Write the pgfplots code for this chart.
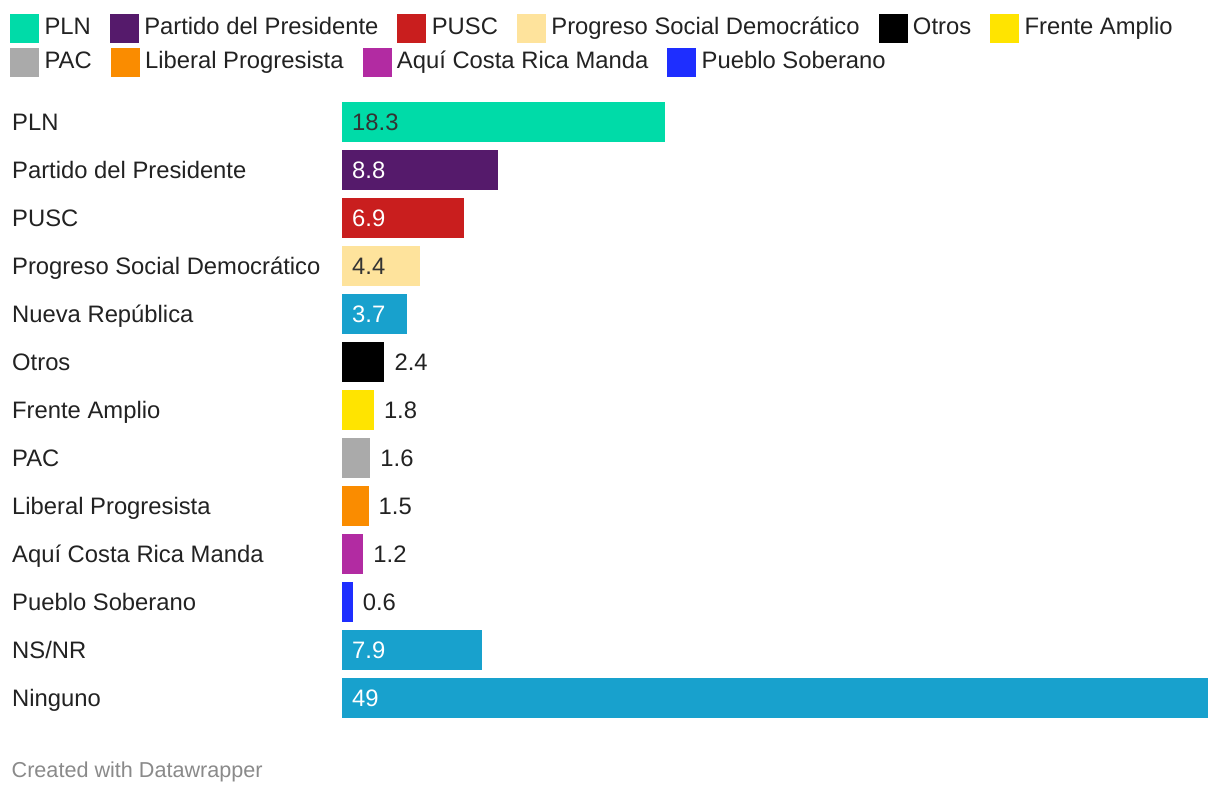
\documentclass[border=0pt]{standalone}
\usepackage{pgfplots}
\pgfplotsset{compat=1.18}
\usepackage{fontspec}
\setmainfont{Liberation Sans}
\definecolor{cPLN}{HTML}{00DBA8}
\definecolor{cPdP}{HTML}{551A6B}
\definecolor{cPUSC}{HTML}{C91E1E}
\definecolor{cPSD}{HTML}{FEE39C}
\definecolor{cNR}{HTML}{18A1CD}
\definecolor{cOtros}{HTML}{000000}
\definecolor{cFA}{HTML}{FFE400}
\definecolor{cPAC}{HTML}{AAAAAA}
\definecolor{cLP}{HTML}{FA8C00}
\definecolor{cACRM}{HTML}{B22BA2}
\definecolor{cPS}{HTML}{1E2EFF}
\definecolor{ctext}{HTML}{222222}
\definecolor{cval}{HTML}{333333}
\definecolor{cfoot}{HTML}{8A8A8A}
\pgfplotsset{
  sq/.style={legend image code/.code={\fill[#1] (0pt,-16pt) rectangle (28pt,12pt); \path (0pt,16pt);}},
  base/.style={
    at={(342pt,74pt)}, anchor=south west,
    width=866pt, height=624pt, scale only axis,
    xmin=0, xmax=49, ymin=-0.5, ymax=12.5, y dir=reverse,
    clip=false,
    legend style={draw=none, fill=none, inner sep=0pt, anchor=north west,
      nodes={inner sep=0pt, text height=22pt, text depth=5pt},
      /tikz/every odd column/.append style={column sep=6pt},
      /tikz/every even column/.append style={column sep=19pt}},
  },
  lbl/.style={draw=none, mark=none, nodes near coords, point meta=explicit symbolic,
    every node near coord/.style={anchor=west, inner sep=0pt, xshift=10pt,
      text height=22pt, text depth=5pt, text=#1}},
}
\begin{document}
\begin{tikzpicture}[font=\fontsize{23.8}{28}\selectfont, text=ctext]
\useasboundingbox (0,0) rectangle (1220pt,796pt);
\fill[white] (0,0) rectangle (1220pt,796pt);
\begin{axis}[base,
  axis line style={draw=none},
  major tick style={draw=none},
  xtick=\empty,
  ytick={0,...,12},
  yticklabels={PLN, Partido del Presidente, PUSC, Progreso Social Democrático, Nueva República, Otros, Frente Amplio, PAC, Liberal Progresista, Aquí Costa Rica Manda, Pueblo Soberano, NS/NR, Ninguno},
  yticklabel style={anchor=west, inner sep=0pt, xshift=-330pt, text height=22pt, text depth=5pt, text=ctext},
  legend columns=6,
  legend style={at={(axis description cs:-0.38337,1.14103)}},
]
\addplot[xbar, bar shift=0pt, bar width=40pt, fill=cPLN, draw=none, forget plot] coordinates {(18.3,0)};
\addplot[xbar, bar shift=0pt, bar width=40pt, fill=cPdP, draw=none, forget plot] coordinates {(8.8,1)};
\addplot[xbar, bar shift=0pt, bar width=40pt, fill=cPUSC, draw=none, forget plot] coordinates {(6.9,2)};
\addplot[xbar, bar shift=0pt, bar width=40pt, fill=cPSD, draw=none, forget plot] coordinates {(4.4,3)};
\addplot[xbar, bar shift=0pt, bar width=40pt, fill=cNR, draw=none, forget plot] coordinates {(3.7,4)};
\addplot[xbar, bar shift=0pt, bar width=40pt, fill=cOtros, draw=none, forget plot] coordinates {(2.4,5)};
\addplot[xbar, bar shift=0pt, bar width=40pt, fill=cFA, draw=none, forget plot] coordinates {(1.8,6)};
\addplot[xbar, bar shift=0pt, bar width=40pt, fill=cPAC, draw=none, forget plot] coordinates {(1.6,7)};
\addplot[xbar, bar shift=0pt, bar width=40pt, fill=cLP, draw=none, forget plot] coordinates {(1.5,8)};
\addplot[xbar, bar shift=0pt, bar width=40pt, fill=cACRM, draw=none, forget plot] coordinates {(1.2,9)};
\addplot[xbar, bar shift=0pt, bar width=40pt, fill=cPS, draw=none, forget plot] coordinates {(0.6,10)};
\addplot[xbar, bar shift=0pt, bar width=40pt, fill=cNR, draw=none, forget plot] coordinates {(7.9,11)};
\addplot[xbar, bar shift=0pt, bar width=40pt, fill=cNR, draw=none, forget plot] coordinates {(49,12)};
% value labels
\addplot[lbl=cval, forget plot] coordinates {(0,0)[18.3] (0,3)[4.4]};
\addplot[lbl=white, forget plot] coordinates {(0,1)[8.8] (0,2)[6.9] (0,4)[3.7] (0,11)[7.9] (0,12)[49]};
\addplot[lbl=ctext, forget plot] coordinates {(2.4,5)[2.4] (1.8,6)[1.8] (1.6,7)[1.6] (1.5,8)[1.5] (1.2,9)[1.2] (0.6,10)[0.6]};
\addlegendimage{sq=cPLN}\addlegendentry{PLN}
\addlegendimage{sq=cPdP}\addlegendentry{Partido del Presidente}
\addlegendimage{sq=cPUSC}\addlegendentry{PUSC}
\addlegendimage{sq=cPSD}\addlegendentry{Progreso Social Democrático}
\addlegendimage{sq=cOtros}\addlegendentry{Otros}
\addlegendimage{sq=cFA}\addlegendentry{Frente Amplio}
\node[anchor=base west, inner sep=0pt, text=cfoot, font=\fontsize{21.6}{26}\selectfont] at (axis description cs:-0.38164,-0.08814) {Created with Datawrapper};
\end{axis}
\begin{axis}[base, hide axis,
  legend columns=4,
  legend style={at={(axis description cs:-0.38337,1.08654)}},
]
\addlegendimage{sq=cPAC}\addlegendentry{PAC}
\addlegendimage{sq=cLP}\addlegendentry{Liberal Progresista}
\addlegendimage{sq=cACRM}\addlegendentry{Aquí Costa Rica Manda}
\addlegendimage{sq=cPS}\addlegendentry{Pueblo Soberano}
\end{axis}
\end{tikzpicture}
\end{document}
